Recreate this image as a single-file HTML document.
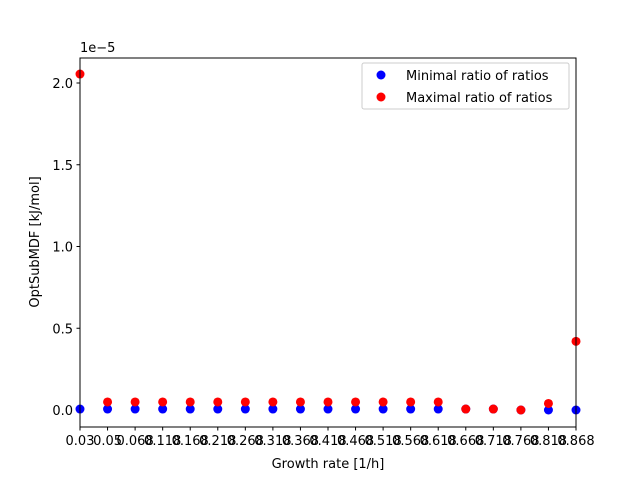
<!DOCTYPE html>
<html><head><meta charset="utf-8"><style>body{margin:0;background:#fff}svg{display:block;font-family:"DejaVu Sans","Liberation Sans",sans-serif}</style></head>
<body>
<svg id="chart" width="640" height="480">
<rect x="0" y="0" width="640" height="480" fill="#fff"/>
<g id="ticks"></g>
<g id="marks"></g>
<rect x="80" y="58" width="496" height="369" fill="none" stroke="#000" stroke-width="1"/>
<text x="80" y="52" font-size="13">1e−5</text>
<text x="328" y="468" font-size="13" text-anchor="middle">Growth rate [1/h]</text>
<text transform="translate(39,242) rotate(-90)" font-size="13" text-anchor="middle">OptSubMDF [kJ/mol]</text>
<g>
<rect x="362" y="63" width="207" height="46" fill="#fff" stroke="#ccc" rx="2"/>
<circle cx="381" cy="75" r="4.5" fill="blue"/>
<text x="406" y="80" font-size="13">Minimal ratio of ratios</text>
<circle cx="381" cy="97" r="4.5" fill="red"/>
<text x="406" y="102" font-size="13">Maximal ratio of ratios</text>
</g>
</svg>
<script>
const categories=["0.03","0.05","0.068","0.118","0.168","0.218","0.268","0.318","0.368","0.418","0.468","0.518","0.568","0.618","0.668","0.718","0.768","0.818","0.868"];
const minValues=[0.006,0.006,0.006,0.006,0.006,0.006,0.006,0.006,0.006,0.006,0.006,0.006,0.006,0.006,0.006,0.006,0.0,0.0,0.0];
const maxValues=[2.055,0.049,0.049,0.049,0.049,0.049,0.049,0.049,0.049,0.049,0.049,0.049,0.049,0.049,0.006,0.006,0.0,0.04,0.42];
const yTicks=[0,0.5,1.0,1.5,2.0];
const yTickLabels=["0.0","0.5","1.0","1.5","2.0"];
const NS="http://www.w3.org/2000/svg";
const X=i=>80+i*(496/(categories.length-1));
const Y=v=>410-v*163.5;
const tg=document.getElementById('ticks'),mg=document.getElementById('marks');
function mk(t,a,p){const e=document.createElementNS(NS,t);for(const k in a)e.setAttribute(k,a[k]);p.appendChild(e);return e;}
categories.forEach((c,i)=>{
 const l=mk('line',{x1:X(i),x2:X(i),y1:427,y2:430.5,stroke:'#000'},tg);
 
 
 const t=mk('text',{x:X(i),y:445,'font-size':13,'text-anchor':'middle'},tg);t.textContent=c;
 
 
});
yTicks.forEach((v,i)=>{
 const l=mk('line',{x1:76.5,x2:80,y1:Y(v),y2:Y(v),stroke:'#000'},tg);
 
 
 const t=mk('text',{x:73,y:Y(v)+5,'font-size':13,'text-anchor':'end'},tg);t.textContent=yTickLabels[i];
 
 
});
minValues.forEach((v,i)=>{const c=mk('circle',{cx:X(i),cy:Y(v),r:4.5,fill:'blue'},mg);
 
 });
maxValues.forEach((v,i)=>{const c=mk('circle',{cx:X(i),cy:Y(v),r:4.5,fill:'red'},mg);
 
 });
</script>
</body></html>
